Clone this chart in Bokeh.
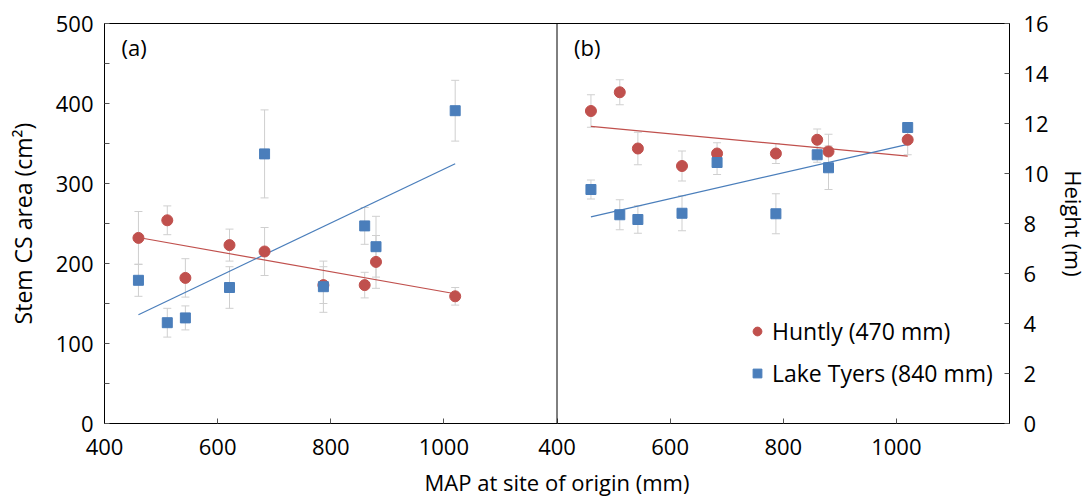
import numpy as np
from bokeh.plotting import figure
from bokeh.models import (Range1d, LinearAxis, FixedTicker, Span, Whisker, TeeHead,
                          ColumnDataSource, Legend, LegendItem, Label)
from bokeh.embed import file_html
from bokeh.resources import INLINE

# ---------------- data ----------------
map_mm = [460, 511, 543, 621, 683, 787, 860, 880, 1020]

huntly_area = [232, 254, 182, 223, 215, 173, 173, 202, 159]
huntly_area_err = [33, 18, 24, 20, 30, 23, 16, 33, 11]
tyers_area = [179, 126, 132, 170, 337, 171, 247, 221, 391]
tyers_area_err = [20, 18, 15, 26, 55, 32, 23, 38, 38]

huntly_height = [12.5, 13.25, 11.0, 10.3, 10.8, 10.8, 11.35, 10.88, 11.35]
huntly_height_err = [0.65, 0.5, 0.65, 0.6, 0.43, 0.4, 0.43, 0.69, 0.6]
tyers_height = [9.36, 8.35, 8.16, 8.41, 10.44, 8.39, 10.75, 10.23, 11.84]
tyers_height_err = [0.38, 0.6, 0.55, 0.7, 0.48, 0.8, 0.3, 0.87, 0.2]

x_tick_values = [400, 600, 800, 1000]
area_ticks = [0, 100, 200, 300, 400, 500]
area_minor_ticks = [50, 150, 250, 350, 450]
height_ticks = [0, 2, 4, 6, 8, 10, 12, 14, 16]
series_labels = ["Huntly (470 mm)", "Lake Tyers (840 mm)"]
panel_labels = ["(a)", "(b)"]
x_axis_title = "MAP at site of origin (mm)"
area_title = "Stem CS area (cm\u00b2)"
height_title = "Height (m)"

# ---------------- style ----------------
FONT = "Open Sans"
RED = "#C0504D"
BLUE = "#4A7EBB"
ERR = "#CFCFCF"
PANEL_SPAN = 800  # each panel covers MAP 400..1200

p = figure(frame_width=905, frame_height=400,
           x_range=Range1d(400, 400 + 2 * PANEL_SPAN), y_range=Range1d(0, 500),
           output_backend="svg", toolbar_location=None,
           min_border_left=104, min_border_top=23, min_border_right=80, min_border_bottom=74)
p.extra_x_ranges = {"b": Range1d(400 - PANEL_SPAN, 400 + PANEL_SPAN)}
p.extra_y_ranges = {"h": Range1d(0, 16)}
p.xgrid.grid_line_color = None
p.ygrid.grid_line_color = None
p.outline_line_color = "black"
p.outline_line_width = 1
p.background_fill_color = "white"
p.border_fill_color = "white"

# bottom axis (shared for both panels)
xt = x_tick_values + [v + PANEL_SPAN for v in x_tick_values]
xa = p.xaxis[0]
xa.ticker = FixedTicker(ticks=xt, minor_ticks=[])
xa.major_label_overrides = {v + PANEL_SPAN: str(v) for v in x_tick_values}
xa.axis_label = x_axis_title

ya = p.yaxis[0]
ya.ticker = FixedTicker(ticks=area_ticks, minor_ticks=area_minor_ticks)
ya.axis_label = area_title

ra = LinearAxis(y_range_name="h", ticker=FixedTicker(ticks=height_ticks, minor_ticks=[]),
                axis_label=height_title)
p.add_layout(ra, "right")

for ax in (xa, ya, ra):
    ax.axis_line_color = "black"
    ax.major_tick_in = 5
    ax.major_tick_out = 0
    ax.minor_tick_in = 5
    ax.minor_tick_out = 0
    ax.major_tick_line_color = "#555555"
    ax.minor_tick_line_color = "#555555"
    ax.major_label_text_font = FONT
    ax.major_label_text_font_size = "22px"
    ax.major_label_text_color = "black"
    ax.axis_label_text_font = FONT
    ax.axis_label_text_font_size = "23px"
    ax.axis_label_text_font_style = "normal"
    ax.axis_label_text_color = "black"
xa.axis_label_text_font_size = "22px"
ra.axis_label_text_font_size = "22px"
xa.major_label_standoff = 15
xa.axis_label_standoff = 9
ya.major_label_standoff = 11
ya.axis_label_standoff = 14
ra.major_label_standoff = 14
ra.axis_label_standoff = 7

# divider between panels
p.add_layout(Span(location=400 + PANEL_SPAN, dimension="height", line_color="black", line_width=1))


def whisker(y, err, xr="default", yr="default"):
    src = ColumnDataSource(dict(x=map_mm,
                                upper=[a + b for a, b in zip(y, err)],
                                lower=[a - b for a, b in zip(y, err)]))
    w = Whisker(base="x", upper="upper", lower="lower", source=src,
                line_color=ERR, line_width=1,
                upper_head=TeeHead(size=8, line_color=ERR, line_width=1),
                lower_head=TeeHead(size=8, line_color=ERR, line_width=1),
                x_range_name=xr, y_range_name=yr)
    p.add_layout(w)


def fit_line(y, color, xr="default", yr="default"):
    k, b = np.polyfit(map_mm, y, 1)
    xs = [min(map_mm), max(map_mm)]
    p.line(xs, [k * v + b for v in xs], line_color=color, line_width=1.2,
           x_range_name=xr, y_range_name=yr)


# panel (a)
whisker(huntly_area, huntly_area_err)
whisker(tyers_area, tyers_area_err)
fit_line(huntly_area, RED)
fit_line(tyers_area, BLUE)
r_red = p.scatter(map_mm, huntly_area, marker="circle", size=11, fill_color=RED, line_color=RED)
r_blue = p.scatter(map_mm, tyers_area, marker="square", size=10, fill_color=BLUE, line_color=BLUE)

# panel (b)
whisker(huntly_height, huntly_height_err, "b", "h")
whisker(tyers_height, tyers_height_err, "b", "h")
fit_line(huntly_height, RED, "b", "h")
fit_line(tyers_height, BLUE, "b", "h")
p.scatter(map_mm, huntly_height, marker="circle", size=11, fill_color=RED, line_color=RED,
          x_range_name="b", y_range_name="h")
p.scatter(map_mm, tyers_height, marker="square", size=10, fill_color=BLUE, line_color=BLUE,
          x_range_name="b", y_range_name="h")

# panel labels
p.add_layout(Label(x=430, y=490, text=panel_labels[0], text_baseline="top",
                   text_font=FONT, text_font_size="22px", text_color="black"))
p.add_layout(Label(x=430, y=490, text=panel_labels[1], text_baseline="top",
                   text_font=FONT, text_font_size="22px", text_color="black",
                   x_range_name="b"))

legend = Legend(items=[LegendItem(label=series_labels[0], renderers=[r_red]),
                       LegendItem(label=series_labels[1], renderers=[r_blue])],
                location=(642, 34), padding=0, margin=0, spacing=10,
                glyph_width=22, glyph_height=22, label_height=22, label_standoff=4,
                label_text_font=FONT, label_text_font_size="23px",
                label_text_color="black",
                border_line_color=None, background_fill_alpha=0)
p.add_layout(legend)

open("out.html", "w").write(file_html(p, INLINE))
